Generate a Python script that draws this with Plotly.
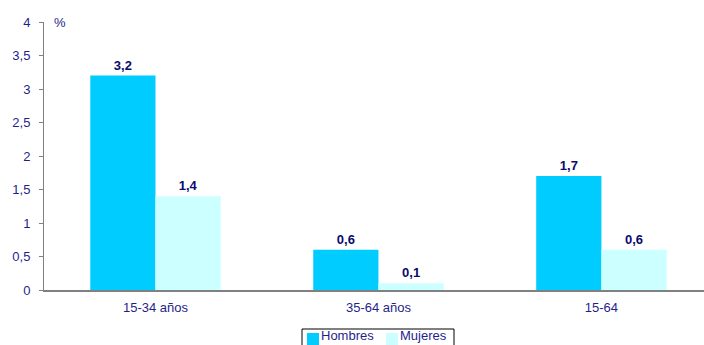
import plotly.graph_objects as go

categorias = ["15-34 años", "35-64 años", "15-64"]
hombres = [3.2, 0.6, 1.7]
mujeres = [1.4, 0.1, 0.6]
y_ticks = [0, 0.5, 1, 1.5, 2, 2.5, 3, 3.5, 4]
y_tick_text = ["0", "0,5", "1", "1,5", "2", "2,5", "3", "3,5", "4"]

color_hombres = "#00CCFF"
color_mujeres = "#CCFFFF"
navy = "#1F1F8C"
label_color = "#0A0A6E"
font_family = "Liberation Sans, Arial, sans-serif"

W, H = 704, 345
ML, MR, MT, MB = 44, 0, 22, 55
PW, PH = W - ML - MR, H - MT - MB


def fmt(v):
    return f"{v:.1f}".replace(".", ",")


def px_x(p):
    return (p - ML) / PW


def px_y(p):
    return (H - MB - p) / PH


fig = go.Figure()
for name, vals, col in [("Hombres", hombres, color_hombres),
                        ("Mujeres", mujeres, color_mujeres)]:
    fig.add_trace(go.Bar(
        name=name, x=categorias, y=vals,
        marker=dict(color=col, line=dict(width=0)),
        text=[fmt(v) for v in vals], textposition="outside",
        textfont=dict(family=font_family, size=13, color=label_color, weight="bold"),
        cliponaxis=False, showlegend=False,
    ))

# Boxed legend below the plot, built from shapes and text
shapes = [dict(type="rect", xref="paper", yref="paper",
               x0=px_x(302), x1=px_x(454), y0=px_y(350), y1=px_y(329),
               line=dict(color="black", width=1), fillcolor="white", layer="above")]
annotations = []
for name, col, sx, tx in [("Hombres", color_hombres, 307, 320),
                          ("Mujeres", color_mujeres, 386, 399)]:
    shapes.append(dict(type="rect", xref="paper", yref="paper",
                       x0=px_x(sx), x1=px_x(sx + 12), y0=px_y(346), y1=px_y(333),
                       line=dict(width=0), fillcolor=col, layer="above"))
    annotations.append(dict(text=name, xref="paper", yref="paper",
                            x=px_x(tx), y=px_y(344), xanchor="left", yanchor="bottom",
                            showarrow=False, borderpad=0,
                            font=dict(family=font_family, size=13, color=navy)))

annotations.append(dict(
    text="%", xref="paper", yref="paper", x=px_x(52), y=1.0,
    xanchor="left", yanchor="middle", showarrow=False,
    font=dict(family=font_family, size=13, color=navy),
))

fig.update_layout(
    width=W, height=H,
    margin=dict(l=ML, r=MR, t=MT, b=MB),
    paper_bgcolor="white", plot_bgcolor="white",
    barmode="group", bargap=0.415, bargroupgap=0,
    font=dict(family=font_family, size=13, color=navy),
    showlegend=False,
    xaxis=dict(
        range=[-0.5, 2.46], showgrid=False, zeroline=False,
        showline=True, linecolor="#808080", linewidth=2,
        ticks="", tickfont=dict(size=13, color=navy),
        ticklabelstandoff=4,
    ),
    yaxis=dict(
        range=[0, 4], tickvals=y_ticks, ticktext=y_tick_text,
        showgrid=False, zeroline=False,
        showline=True, linecolor="#808080", linewidth=1,
        ticks="outside", ticklen=4, tickcolor="#808080",
        tickfont=dict(size=13, color=navy), ticklabelstandoff=6,
    ),
    shapes=shapes,
    annotations=annotations,
)

fig.write_html("out.html")
